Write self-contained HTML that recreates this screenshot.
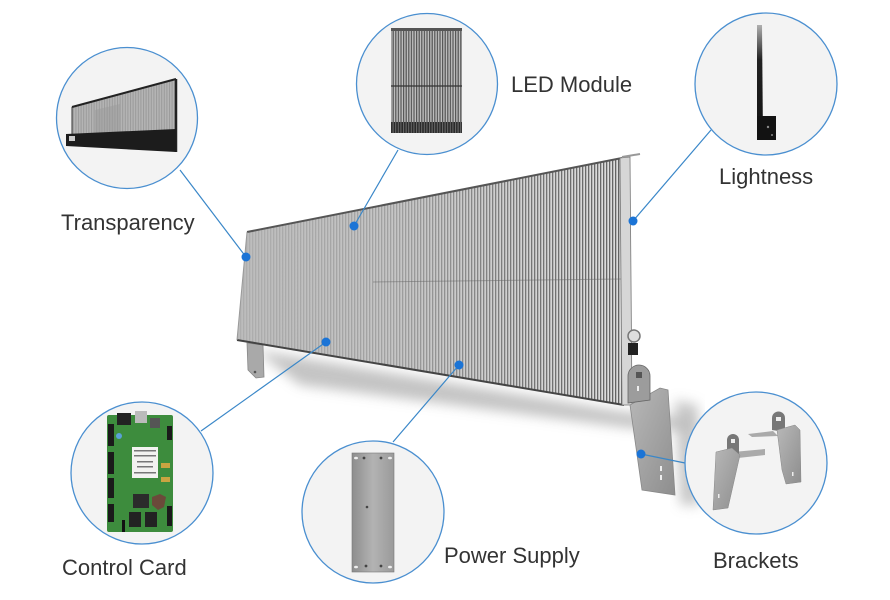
<!DOCTYPE html>
<html><head><meta charset="utf-8"><style>
html,body{margin:0;padding:0;background:#fff;}
svg{display:block;}
text{font-family:"Liberation Sans",Arial,sans-serif;font-size:22px;fill:#333;}
</style></head><body>
<svg width="890" height="600" viewBox="0 0 890 600" xmlns="http://www.w3.org/2000/svg">
<defs>
  <pattern id="str" width="3" height="10" patternUnits="userSpaceOnUse"><rect width="1.3" height="10" fill="#4a4a4a"/></pattern>
  <pattern id="str2" width="2.6" height="10" patternUnits="userSpaceOnUse"><rect width="1.2" height="10" fill="#555"/></pattern>
  <pattern id="str3" width="2.6" height="10" patternUnits="userSpaceOnUse"><rect width="1" height="10" fill="#888"/></pattern>
  <linearGradient id="pg" x1="237" x2="630" y1="0" y2="0" gradientUnits="userSpaceOnUse">
    <stop offset="0" stop-color="#bcbcbc"/><stop offset="0.45" stop-color="#c6c6c6"/><stop offset="1" stop-color="#dedede"/>
  </linearGradient>
  <linearGradient id="mg" x1="237" x2="630" y1="0" y2="0" gradientUnits="userSpaceOnUse">
    <stop offset="0" stop-color="#fff" stop-opacity="0.12"/><stop offset="0.4" stop-color="#fff" stop-opacity="0.3"/><stop offset="0.7" stop-color="#fff" stop-opacity="0.65"/><stop offset="1" stop-color="#fff" stop-opacity="0.85"/>
  </linearGradient>
  <mask id="pm"><rect x="230" y="150" width="410" height="270" fill="url(#mg)"/></mask>
  <clipPath id="pc"><polygon points="247,232 622,158 624,405 237,340"/></clipPath>
  <filter id="blur" x="-20%" y="-50%" width="140%" height="200%"><feGaussianBlur stdDeviation="6"/></filter>
  <linearGradient id="barg" x1="0" y1="25" x2="0" y2="140" gradientUnits="userSpaceOnUse">
    <stop offset="0" stop-color="#b0b0b0"/><stop offset="0.3" stop-color="#222"/><stop offset="1" stop-color="#111"/>
  </linearGradient>
  <linearGradient id="psg" x1="352" x2="394" y1="0" y2="0" gradientUnits="userSpaceOnUse">
    <stop offset="0" stop-color="#8d8d8d"/><stop offset="0.5" stop-color="#b3b3b3"/><stop offset="1" stop-color="#9a9a9a"/>
  </linearGradient>
  <linearGradient id="brg" x1="0" y1="0" x2="1" y2="1">
    <stop offset="0" stop-color="#b8b8b8"/><stop offset="1" stop-color="#8e8e8e"/>
  </linearGradient>
</defs>

<!-- shadow -->
<polygon points="255,350 625,412 690,418 692,430 630,428 300,385" fill="#b5b5b5" filter="url(#blur)" opacity="0.8"/>
<polygon points="675,400 698,405 700,505 680,505" fill="#bbb" filter="url(#blur)" opacity="0.8"/>

<!-- left small bracket -->
<polygon points="247,343 263,345 264,377 256,378 248,370" fill="#a9a9a9" stroke="#888" stroke-width="0.8"/>
<circle cx="255" cy="372" r="1.3" fill="#555"/>

<!-- panel -->
<polygon points="247,232 622,158 624,405 237,340" fill="url(#pg)"/>
<g clip-path="url(#pc)">
  <rect x="230" y="150" width="410" height="270" fill="url(#str)" mask="url(#pm)"/>
  <line x1="373" y1="282" x2="622" y2="279" stroke="#666" stroke-width="1" opacity="0.5"/>
</g>
<line x1="247" y1="232" x2="622" y2="158" stroke="#555" stroke-width="2"/>
<line x1="237" y1="340" x2="624" y2="405" stroke="#444" stroke-width="2"/>
<line x1="247" y1="232" x2="237" y2="340" stroke="#999" stroke-width="1"/>
<!-- right frame -->
<polygon points="620,158 630,157 632,405 622,405" fill="#d6d6d6" stroke="#777" stroke-width="0.8"/>
<line x1="622" y1="157" x2="640" y2="154" stroke="#999" stroke-width="2"/>
<!-- right hardware -->
<circle cx="634" cy="336" r="6" fill="#ddd" stroke="#777" stroke-width="1.5"/>
<rect x="628" y="343" width="10" height="12" fill="#222"/>
<!-- right bracket -->
<polygon points="630,405 660,388 668,390 675,495 642,490" fill="url(#brg)" stroke="#888" stroke-width="0.8"/>
<path d="M628,403 L628,376 A11,11 0 0 1 650,376 L650,400 Z" fill="#9c9c9c" stroke="#666" stroke-width="0.8"/>
<rect x="636" y="372" width="6" height="6" fill="#555"/>
<rect x="637" y="386" width="2" height="5" fill="#eee"/>
<rect x="660" y="466" width="2" height="5" fill="#eee"/>
<rect x="660" y="475" width="2" height="5" fill="#eee"/>

<!-- connectors -->
<g stroke="#3a87c8" stroke-width="1.2" fill="none">
  <line x1="180" y1="170" x2="246" y2="257"/>
  <line x1="398" y1="150" x2="354" y2="226"/>
  <line x1="711" y1="130" x2="633" y2="221"/>
  <line x1="201" y1="431" x2="326" y2="342"/>
  <line x1="393" y1="442" x2="459" y2="365"/>
  <line x1="685" y1="463" x2="641" y2="454"/>
</g>
<g fill="#1b74d6">
  <circle cx="246" cy="257" r="4.5"/>
  <circle cx="354" cy="226" r="4.5"/>
  <circle cx="633" cy="221" r="4.5"/>
  <circle cx="326" cy="342" r="4.5"/>
  <circle cx="459" cy="365" r="4.5"/>
  <circle cx="641" cy="454" r="4.5"/>
</g>

<!-- circles -->
<g fill="#f3f3f3" stroke="#4a8fd0" stroke-width="1.3">
  <circle cx="127" cy="118" r="70.5"/>
  <circle cx="427" cy="84" r="70.5"/>
  <circle cx="766" cy="84" r="71"/>
  <circle cx="142" cy="473" r="71"/>
  <circle cx="373" cy="512" r="71"/>
  <circle cx="756" cy="463" r="71"/>
</g>

<!-- Transparency content -->
<polygon points="72,107 176,79 176,132 72,136" fill="#b4b4b4"/>
<polygon points="72,107 176,79 176,132 72,136" fill="url(#str3)" opacity="0.6"/>
<polygon points="95,110 120,104 120,132 95,134" fill="#9a9a9a" opacity="0.5"/>
<line x1="72" y1="107" x2="176" y2="79" stroke="#222" stroke-width="2"/>
<line x1="176" y1="79" x2="176" y2="152" stroke="#222" stroke-width="2.5"/>
<line x1="72" y1="107" x2="72" y2="136" stroke="#333" stroke-width="1"/>
<polygon points="66,134 176,129 176,152 66,146" fill="#1c1c1c"/>
<rect x="69" y="136" width="6" height="5" fill="#ccc"/>

<!-- LED Module content -->
<rect x="391" y="28" width="71" height="105" fill="#bdbdbd"/>
<rect x="391" y="28" width="71" height="105" fill="url(#str2)"/>
<rect x="391" y="28" width="71" height="3" fill="#555"/>
<line x1="391" y1="86" x2="462" y2="86" stroke="#333" stroke-width="1.2"/>
<rect x="391" y="122" width="71" height="11" fill="#2a2a2a"/>
<rect x="391" y="122" width="71" height="11" fill="url(#str3)" opacity="0.7"/>

<!-- Lightness content -->
<polygon points="757,25 762,25 763,140 757,140" fill="url(#barg)"/>
<rect x="757" y="116" width="19" height="24" fill="#121212"/>
<circle cx="768" cy="127" r="1.2" fill="#888"/>
<circle cx="772" cy="135" r="1" fill="#888"/>

<!-- Control Card content -->
<rect x="107" y="415" width="66" height="117" rx="2" fill="#3d8c3d"/>
<rect x="117" y="413" width="14" height="12" fill="#222"/>
<rect x="135" y="411" width="12" height="12" fill="#bbb"/>
<rect x="150" y="418" width="10" height="10" fill="#555"/>
<rect x="108" y="424" width="6" height="22" fill="#1a1a1a"/>
<rect x="108" y="452" width="6" height="22" fill="#1a1a1a"/>
<rect x="108" y="478" width="6" height="20" fill="#1a1a1a"/>
<rect x="108" y="504" width="6" height="18" fill="#1a1a1a"/>
<rect x="167" y="426" width="5" height="14" fill="#1a1a1a"/>
<rect x="167" y="506" width="5" height="20" fill="#1a1a1a"/>
<rect x="132" y="447" width="26" height="31" fill="#f2f2f0"/>
<g fill="#777"><rect x="134" y="450" width="22" height="1.5"/><rect x="134" y="455" width="22" height="1.5"/><rect x="137" y="461" width="16" height="1.5"/><rect x="137" y="466" width="16" height="1.5"/><rect x="134" y="472" width="22" height="1.5"/></g>
<rect x="161" y="463" width="9" height="5" fill="#c9a441"/>
<rect x="161" y="477" width="9" height="5" fill="#c9a441"/>
<rect x="133" y="494" width="16" height="14" fill="#2b2b2b"/>
<path d="M152,497 l8,-3 l6,3 l-2,10 l-6,3 l-6,-5 z" fill="#6b4a3a"/>
<rect x="129" y="512" width="12" height="15" fill="#222"/>
<rect x="145" y="512" width="12" height="15" fill="#222"/>
<circle cx="119" cy="436" r="3" fill="#5aa0d8"/>
<rect x="122" y="520" width="3" height="12" fill="#111"/>

<!-- Power Supply content -->
<rect x="352" y="453" width="42" height="119" fill="url(#psg)" stroke="#777" stroke-width="0.6"/>
<g fill="#444">
  <circle cx="364" cy="458" r="1.4"/><circle cx="381" cy="458" r="1.4"/>
  <circle cx="366" cy="566" r="1.4"/><circle cx="381" cy="566" r="1.4"/>
  <circle cx="367" cy="507" r="1.3"/>
</g>
<g fill="#eee"><ellipse cx="356" cy="458" rx="2" ry="1.3"/><ellipse cx="390" cy="458" rx="2" ry="1.3"/><ellipse cx="356" cy="567" rx="2" ry="1.3"/><ellipse cx="390" cy="567" rx="2" ry="1.3"/></g>

<!-- Brackets content -->
<polygon points="748,434 773,431 778,436 752,437" fill="#aaa"/>
<path d="M772,430 L772,418 A6.5,6.5 0 0 1 785,418 L785,432 Z" fill="#777"/>
<rect x="776" y="417" width="5" height="4" fill="#eee"/>
<polygon points="777,430 795,425 800,430 801,482 786,484 782,470" fill="url(#brg)" stroke="#888" stroke-width="0.5"/>
<rect x="792" y="472" width="1.5" height="4" fill="#eee"/>
<polygon points="733,452 765,449 765,455 738,458" fill="#aaa"/>
<path d="M727,452 L727,440 A6,6 0 0 1 739,440 L739,454 Z" fill="#777"/>
<rect x="731" y="439" width="4" height="4" fill="#eee"/>
<polygon points="716,452 732,448 740,455 728,508 713,510" fill="url(#brg)" stroke="#888" stroke-width="0.5"/>
<rect x="718" y="494" width="1.5" height="4" fill="#eee"/>

<!-- labels -->
<text x="511" y="92">LED Module</text>
<text x="61" y="230">Transparency</text>
<text x="719" y="184">Lightness</text>
<text x="62" y="575">Control Card</text>
<text x="444" y="563">Power Supply</text>
<text x="713" y="568">Brackets</text>
</svg>
</body></html>
